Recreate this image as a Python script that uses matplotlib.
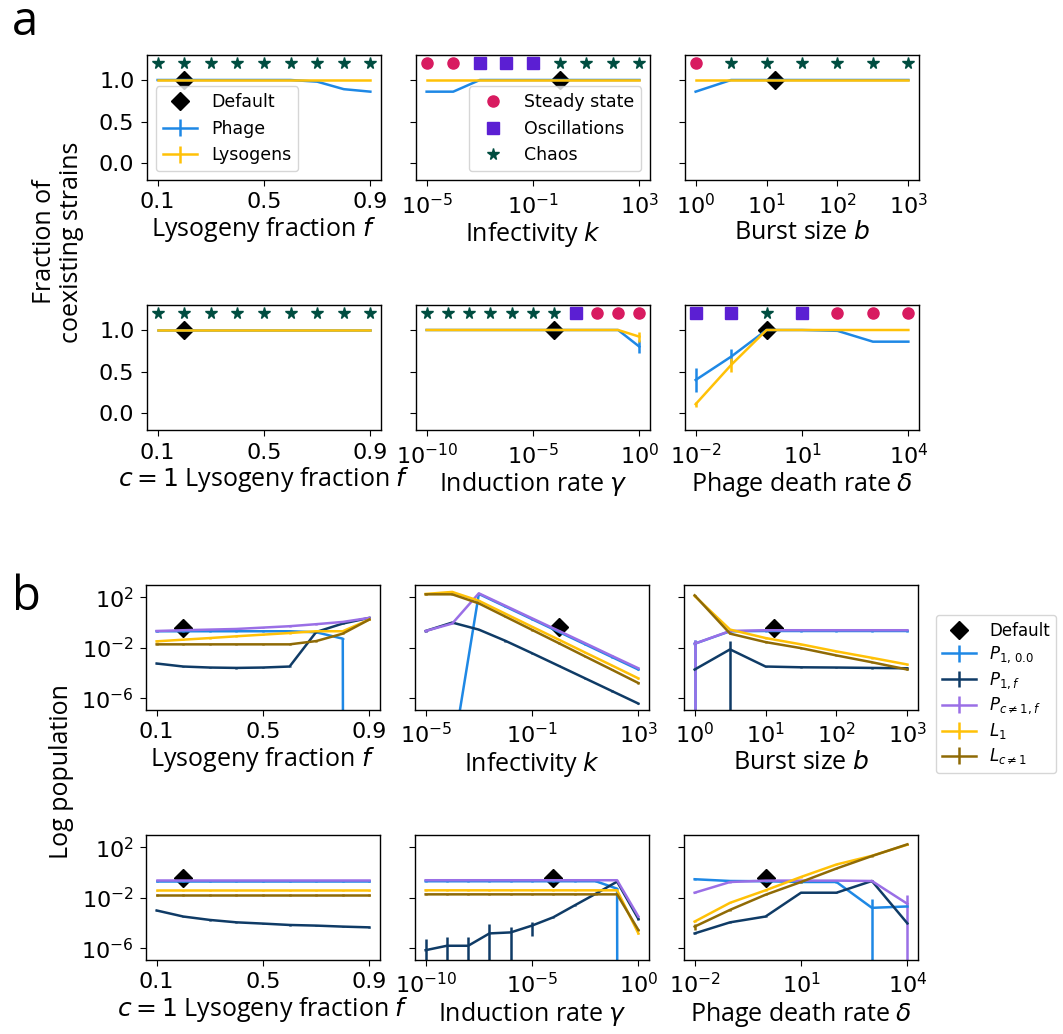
import numpy as np
import matplotlib
matplotlib.use("Agg")
import matplotlib.pyplot as plt
from matplotlib.ticker import NullLocator

plt.rcParams["font.family"] = ["DejaVu Sans"]
plt.rcParams["axes.linewidth"] = 1.0

# ---------------- data ----------------
f_vals = [0.1, 0.2, 0.3, 0.4, 0.5, 0.6, 0.7, 0.8, 0.9]
k_vals = [1e-5, 1e-4, 1e-3, 1e-2, 1e-1, 1e0, 1e1, 1e2, 1e3]
b_vals = [1.0, 3.16, 10.0, 31.6, 100.0, 316.0, 1000.0]
g_vals = [1e-10, 1e-9, 1e-8, 1e-7, 1e-6, 1e-5, 1e-4, 1e-3, 1e-2, 1e-1, 1e0]
d_vals = [1e-2, 1e-1, 1e0, 1e1, 1e2, 1e3, 1e4]

default_f = 0.2
default_k = 1.0
default_b = 13.0
default_g = 1e-4
default_d = 1.0

# fraction of coexisting strains (panel a)
phage_f = [1.0, 1.0, 1.0, 1.0, 1.0, 1.0, 0.98, 0.89, 0.86]
lys_f = [1.0] * 9
regime_f = ["C"] * 9

phage_k = [0.86, 0.86, 1.0, 1.0, 1.0, 1.0, 1.0, 1.0, 1.0]
lys_k = [1.0] * 9
regime_k = ["S", "S", "O", "O", "O", "C", "C", "C", "C"]

phage_b = [0.86, 1.0, 1.0, 1.0, 1.0, 1.0, 1.0]
lys_b = [1.0] * 7
regime_b = ["S", "C", "C", "C", "C", "C", "C"]

phage_c1 = [1.0] * 9
lys_c1 = [1.0] * 9
regime_c1 = ["C"] * 9

phage_g = [1.0] * 10 + [0.80]
phage_g_err = [0.0] * 10 + [0.08]
lys_g = [1.0] * 10 + [0.92]
lys_g_err = [0.0] * 10 + [0.06]
regime_g = ["C"] * 7 + ["O", "S", "S", "S"]

phage_d = [0.40, 0.68, 1.0, 1.0, 0.99, 0.86, 0.86]
phage_d_err = [0.14, 0.09, 0, 0, 0, 0, 0]
lys_d = [0.11, 0.58, 1.0, 1.0, 1.0, 1.0, 1.0]
lys_d_err = [0.03, 0.08, 0, 0, 0, 0, 0]
regime_d = ["O", "O", "C", "O", "S", "S", "S"]

# log10 of populations (panel b); -inf = extinct
ext = -np.inf
pop_f = {
    "P10": [-0.69, -0.69, -0.69, -0.69, -0.69, -0.69, -0.77, -1.28, ext],
    "P1f": [-3.25, -3.49, -3.57, -3.60, -3.57, -3.49, -0.75, -0.08, 0.37],
    "Pc": [-0.67, -0.61, -0.56, -0.51, -0.40, -0.29, -0.13, 0.05, 0.37],
    "L1": [-1.49, -1.36, -1.23, -1.09, -0.96, -0.83, -0.69, -0.69, 0.24],
    "Lc": [-1.73, -1.73, -1.73, -1.73, -1.73, -1.73, -1.47, -0.88, 0.24],
}
pop_k = {
    "P10": [ext, -10.7, 2.27, 1.27, 0.27, -0.73, -1.73, -2.73, -3.73],
    "P1f": [-0.67, 0.0, -0.56, -1.45, -2.43, -3.43, -4.43, -5.43, -6.43],
    "Pc": [-0.67, -0.08, 2.32, 1.33, 0.34, -0.65, -1.64, -2.64, -3.63],
    "L1": [2.27, 2.43, 1.73, 0.70, -0.33, -1.35, -2.38, -3.40, -4.43],
    "Lc": [2.24, 2.24, 1.52, 0.47, -0.58, -1.63, -2.69, -3.74, -4.80],
}
pop_b = {
    "P10": [-1.68, -0.69, -0.67, -0.67, -0.67, -0.67, -0.67],
    "P1f": [-3.73, -2.13, -3.49, -3.55, -3.57, -3.60, -3.63],
    "Pc": [-1.68, -0.67, -0.61, -0.61, -0.61, -0.61, -0.61],
    "L1": [2.11, -0.56, -1.23, -1.73, -2.29, -2.80, -3.33],
    "Lc": [2.16, -0.88, -1.55, -2.03, -2.61, -3.15, -3.73],
}
pop_c1 = {
    "P10": [-0.67] * 9,
    "P1f": [-3.01, -3.49, -3.76, -3.95, -4.05, -4.16, -4.21, -4.29, -4.35],
    "Pc": [-0.61] * 9,
    "L1": [-1.41] * 9,
    "Lc": [-1.79] * 9,
}
pop_g = {
    "P10": [-0.69] * 9 + [-1.28, ext],
    "P1f": [-6.16, -5.81, -5.81, -4.83, -4.75, -4.21, -3.55, -2.61, -1.68, -0.72, -3.68],
    "Pc": [-0.61] * 10 + [-3.49],
    "L1": [-1.41] * 10 + [-4.83],
    "Lc": [-1.73] * 10 + [-4.56],
}
pop_d = {
    "P10": [-0.53, -0.67, -0.69, -0.75, -0.75, -2.80, -2.69],
    "P1f": [-4.83, -3.95, -3.49, -1.60, -1.60, -0.67, -4.03],
    "Pc": [-1.60, -0.75, -0.64, -0.64, -0.64, -0.67, -2.48],
    "L1": [-3.89, -2.40, -1.41, -0.35, 0.64, 1.33, 2.21],
    "Lc": [-4.29, -2.96, -1.76, -0.75, 0.32, 1.31, 2.24],
}
default_pop = [-0.40, -0.35, -0.40, -0.40, -0.43, -0.40]

# relative errors where the spread is large
big_err = {
    ("b", "P10"): {0: 1.09},
    ("b", "Pc"): {0: 1.0},
    ("b", "P1f"): {1: 3.4},
    ("g", "P1f"): {0: 6.6, 1: 4.2, 2: 3.7, 3: 4.6, 4: 1.5, 5: 0.85},
    ("d", "P10"): {5: 4.2},
    ("d", "Pc"): {6: 3.6},
    ("d", "Lc"): {0: 0.5},
}
small_rel = 0.12

series = ["P10", "P1f", "Pc", "L1", "Lc"]
series_labels = {
    "P10": r"$P_{1,\,0.0}$",
    "P1f": r"$P_{1,f}$",
    "Pc": r"$P_{c\neq1,f}$",
    "L1": r"$L_1$",
    "Lc": r"$L_{c\neq1}$",
}
series_colors = {
    "P10": "#1E88E5",
    "P1f": "#0F3B66",
    "Pc": "#9A6FE6",
    "L1": "#FFC107",
    "Lc": "#8F6A05",
}
c_phage = "#1E88E5"
c_lys = "#FFC107"
regime_style = {
    "S": ("o", "#D81B60", 8, "Steady state"),
    "O": ("s", "#5B1FD3", 8, "Oscillations"),
    "C": ("*", "#004D40", 8.5, "Chaos"),
}

xlabels = [r"Lysogeny fraction $f$", r"Infectivity $k$", r"Burst size $b$",
           r"$c=1$ Lysogeny fraction $f$", r"Induction rate $\gamma$",
           r"Phage death rate $\delta$"]

# ---------------- layout ----------------
W, H = 1063, 1034
fig = plt.figure(figsize=(W / 100, H / 100), dpi=100)


def px_axes(left, top, w, h):
    return fig.add_axes([left / W, 1 - (top + h) / H, w / W, h / H])


col_left = [147, 416, 685]
col_w = 234
rows_a = [55, 305]
rows_b = [585, 835]
row_h = 125

label_font = dict(family=["Open Sans", "DejaVu Sans"], size=18)
tick_size = 16


def style_x(ax, kind):
    if kind == "f":
        ax.set_xticks([0.1, 0.5, 0.9])
        ax.set_xticklabels(["0.1", "0.5", "0.9"])
    else:
        ax.set_xscale("log")
        ticks = {"k": [1e-5, 1e-1, 1e3], "b": [1, 10, 100, 1000],
                 "g": [1e-10, 1e-5, 1e0], "d": [1e-2, 1e1, 1e4]}[kind]
        ax.set_xticks(ticks)
        ax.xaxis.set_minor_locator(NullLocator())
    ax.tick_params(labelsize=tick_size, length=4.5, pad=4.5)


x_sets = [(f_vals, "f", default_f), (k_vals, "k", default_k), (b_vals, "b", default_b),
          (f_vals, "f", default_f), (g_vals, "g", default_g), (d_vals, "d", default_d)]

# ---------------- panel a ----------------
a_phage = [phage_f, phage_k, phage_b, phage_c1, phage_g, phage_d]
a_lys = [lys_f, lys_k, lys_b, lys_c1, lys_g, lys_d]
a_phage_err = [[0] * 9, [0] * 9, [0] * 7, [0] * 9, phage_g_err, phage_d_err]
a_lys_err = [[0] * 9, [0] * 9, [0] * 7, [0] * 9, lys_g_err, lys_d_err]
a_regime = [regime_f, regime_k, regime_b, regime_c1, regime_g, regime_d]

for i in range(6):
    r, c = divmod(i, 3)
    ax = px_axes(col_left[c], rows_a[r], col_w, row_h)
    xv, kind, xdef = x_sets[i]
    xv = np.array(xv)
    reg = np.array(a_regime[i])
    for key in ["S", "O", "C"]:
        m = reg == key
        if m.any():
            mk, col, ms, lab = regime_style[key]
            ax.plot(xv[m], np.full(m.sum(), 1.2), mk, color=col, ms=ms,
                    ls="none", label=lab)
    hd, = ax.plot([xdef], [1.0], "D", color="k", ms=9, label="Default")
    ep = ax.errorbar(xv, a_phage[i], yerr=a_phage_err[i], color=c_phage, lw=1.8,
                     elinewidth=1.8, label="Phage")
    el = ax.errorbar(xv, a_lys[i], yerr=a_lys_err[i], color=c_lys, lw=1.8,
                     elinewidth=1.8, label="Lysogens")
    ax.set_ylim(-0.2, 1.3)
    ax.set_yticks([0.0, 0.5, 1.0])
    ax.set_yticklabels(["0.0", "0.5", "1.0"])
    style_x(ax, kind)
    if c > 0:
        ax.tick_params(labelleft=False)
    ax.set_xlabel(xlabels[i], fontdict=label_font, labelpad=2)
    if i == 0:
        ax.legend([hd, ep, el], ["Default", "Phage", "Lysogens"],
                  loc="lower left", fontsize=12.5)
    if i == 1:
        hs, ls_ = ax.get_legend_handles_labels()
        keep = [j for j, l in enumerate(ls_) if l in ("Steady state", "Oscillations", "Chaos")]
        ax.legend([hs[j] for j in keep], [ls_[j] for j in keep],
                  loc="lower right", fontsize=12.5)

# ---------------- panel b ----------------
b_pops = [pop_f, pop_k, pop_b, pop_c1, pop_g, pop_d]
b_keys = ["f", "k", "b", "c1", "g", "d"]
for i in range(6):
    r, c = divmod(i, 3)
    ax = px_axes(col_left[c] - 1, rows_b[r], col_w, row_h)
    xv, kind, xdef = x_sets[i]
    ax.set_yscale("log")
    hd, = ax.plot([xdef], [10 ** default_pop[i]], "D", color="k", ms=9, label="Default")
    handles = [hd]
    for s in series:
        y = np.power(10.0, np.array(b_pops[i][s], dtype=float))
        rel = np.full(len(y), small_rel)
        for j, v in big_err.get((b_keys[i], s), {}).items():
            rel[j] = v
        yerr = y * rel
        h = ax.errorbar(xv, y, yerr=yerr, color=series_colors[s], lw=1.8,
                        elinewidth=1.8, label=series_labels[s])
        handles.append(h)
    ax.set_ylim(10 ** -6.94, 10 ** 2.98)
    ax.set_yticks([1e2, 1e-2, 1e-6])
    ax.yaxis.set_minor_locator(NullLocator())
    style_x(ax, kind)
    if c > 0:
        ax.tick_params(labelleft=False)
    ax.set_xlabel(xlabels[i], fontdict=label_font, labelpad=2)
    if i == 2:
        ax.legend(handles, ["Default"] + [series_labels[s] for s in series],
                  loc="upper left", bbox_to_anchor=(1.075, 0.76), fontsize=12,
                  labelspacing=0.3, borderaxespad=0)

# ---------------- figure text ----------------
fig.text(12 / W, 1 - 35 / H, "a", family=["Open Sans", "DejaVu Sans"], size=34,
         va="baseline")
fig.text(12 / W, 1 - 610 / H, "b", family=["Open Sans", "DejaVu Sans"], size=34,
         va="baseline")
fig.text(58 / W, 1 - 242 / H, "Fraction of\ncoexisting strains", rotation=90,
         ha="center", va="center", linespacing=1.1, **label_font)
fig.text(62 / W, 1 - 772 / H, "Log population", rotation=90,
         ha="center", va="center", **label_font)

fig.savefig("out.png", dpi=100)
